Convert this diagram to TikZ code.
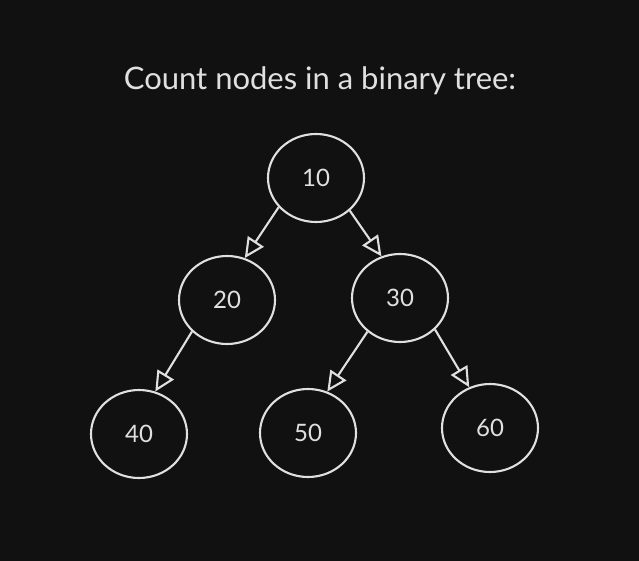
\documentclass[tikz,border=0pt]{standalone}
\usepackage{fontspec}
\setmainfont{Lato}
\usetikzlibrary{shapes.geometric,arrows.meta}
\definecolor{bg}{HTML}{111111}
\definecolor{fg}{HTML}{E0E0E0}
\tikzset{
  treenode/.style={ellipse, draw=fg, line width=2.1pt, minimum width=96pt, minimum height=88pt, inner sep=0pt, text=fg, font=\fontsize{24}{28}\selectfont},
  edge/.style={draw=fg, line width=2.1pt, -{Triangle[open, length=20pt, width=19pt]}}
}
\begin{document}
\begin{tikzpicture}[x=1pt,y=-1pt]
\fill[bg] (0,0) rectangle (639,561);
\useasboundingbox (0,0) rectangle (639,561);
\node[text=fg, font=\fontsize{31}{36}\selectfont] (title) at (320,81) {Count nodes in a binary tree:};
\node[treenode] (n10) at (316,178) {10};
\node[treenode] (n20) at (227,300) {20};
\node[treenode] (n30) at (400,298) {30};
\node[treenode] (n40) at (139,434) {40};
\node[treenode] (n50) at (308,433) {50};
\node[treenode] (n60) at (490,428) {60};
\draw[edge] (n10.218) -- (n20.67);
\draw[edge] (n10.316) -- (n30.114);
\draw[edge] (n20.222) -- (n40.69);
\draw[edge] (n30.226) -- (n50.65);
\draw[edge] (n30.318) -- (n60.117);
\end{tikzpicture}
\end{document}
